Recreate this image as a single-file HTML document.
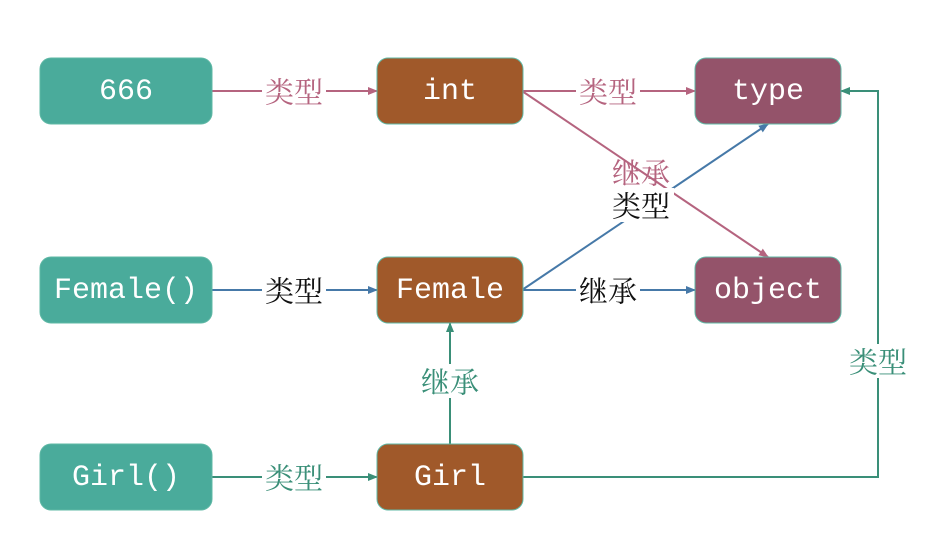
<!DOCTYPE html>
<html><head><meta charset="utf-8"><style>
html,body{margin:0;padding:0;background:#fff;}
svg{display:block;}
.bt{font-family:"Liberation Mono","Noto Serif CJK SC",monospace;font-size:30px;fill:#fff;text-anchor:middle;dominant-baseline:central;}
.lb{font-family:"Noto Serif CJK SC","Noto Sans CJK SC",serif;font-size:29px;text-anchor:middle;dominant-baseline:central;}
</style></head><body>
<svg width="952" height="554" viewBox="0 0 952 554" xmlns="http://www.w3.org/2000/svg">
<defs>
<marker id="ap" markerWidth="10" markerHeight="10" refX="9" refY="5" orient="auto" markerUnits="userSpaceOnUse"><path d="M0,1 L10,5 L0,9 z" fill="#b5647f"/></marker>
<marker id="ab" markerWidth="10" markerHeight="10" refX="9" refY="5" orient="auto" markerUnits="userSpaceOnUse"><path d="M0,1 L10,5 L0,9 z" fill="#4679a8"/></marker>
<marker id="ag" markerWidth="10" markerHeight="10" refX="9" refY="5" orient="auto" markerUnits="userSpaceOnUse"><path d="M0,1 L10,5 L0,9 z" fill="#3a8f78"/></marker>
</defs>
<g stroke-width="2" fill="none">
<line x1="212" y1="91" x2="377" y2="91" stroke="#b5647f" marker-end="url(#ap)"/>
<line x1="522" y1="91" x2="695" y2="91" stroke="#b5647f" marker-end="url(#ap)"/>
<line x1="522" y1="91" x2="768" y2="257" stroke="#b5647f" marker-end="url(#ap)"/>
<line x1="522" y1="290" x2="768" y2="124" stroke="#4679a8" marker-end="url(#ab)"/>
<line x1="212" y1="290" x2="377" y2="290" stroke="#4679a8" marker-end="url(#ab)"/>
<line x1="522" y1="290" x2="695" y2="290" stroke="#4679a8" marker-end="url(#ab)"/>
<line x1="212" y1="477" x2="377" y2="477" stroke="#3a8f78" marker-end="url(#ag)"/>
<line x1="450" y1="445" x2="450" y2="323" stroke="#3a8f78" marker-end="url(#ag)"/>
<polyline points="522,477 878,477 878,91 841,91" stroke="#3a8f78" marker-end="url(#ag)"/>
</g>
<g stroke="#5fb8a5" stroke-width="1">
<rect x="40" y="58" width="172" height="66" rx="11" fill="#4aab9b"/>
<rect x="40" y="257" width="172" height="66" rx="11" fill="#4aab9b"/>
<rect x="40" y="444" width="172" height="66" rx="11" fill="#4aab9b"/>
<rect x="377" y="58" width="146" height="66" rx="11" fill="#a0592a"/>
<rect x="377" y="257" width="146" height="66" rx="11" fill="#a0592a"/>
<rect x="377" y="444" width="146" height="66" rx="11" fill="#a0592a"/>
<rect x="695" y="58" width="146" height="66" rx="11" fill="#94536a"/>
<rect x="695" y="257" width="146" height="66" rx="11" fill="#94536a"/>
</g>
<text class="bt" x="126" y="92">666</text>
<text class="bt" x="126" y="291">Female()</text>
<text class="bt" x="126" y="478">Girl()</text>
<text class="bt" x="450" y="92">int</text>
<text class="bt" x="450" y="291">Female</text>
<text class="bt" x="450" y="478">Girl</text>
<text class="bt" x="768" y="92">type</text>
<text class="bt" x="768" y="291">object</text>
<g fill="#fff">
<rect x="262" y="74" width="64" height="34"/>
<rect x="576" y="74" width="64" height="34"/>
<rect x="262" y="273" width="64" height="34"/>
<rect x="576" y="273" width="64" height="34"/>
<rect x="262" y="460" width="64" height="34"/>
<rect x="418" y="364" width="64" height="34"/>
<rect x="846" y="344" width="64" height="34"/>
<rect x="608" y="188" width="66" height="34"/>
</g>
<text class="lb" x="294" y="91" fill="#b5647f">类型</text>
<text class="lb" x="608" y="91" fill="#b5647f">类型</text>
<text class="lb" x="641" y="172" fill="#b5647f">继承</text>
<text class="lb" x="641" y="205" fill="#111">类型</text>
<text class="lb" x="294" y="290" fill="#111">类型</text>
<text class="lb" x="608" y="290" fill="#111">继承</text>
<text class="lb" x="294" y="477" fill="#3a8f78">类型</text>
<text class="lb" x="450" y="381" fill="#3a8f78">继承</text>
<text class="lb" x="878" y="361" fill="#3a8f78">类型</text>
</svg>
</body></html>
